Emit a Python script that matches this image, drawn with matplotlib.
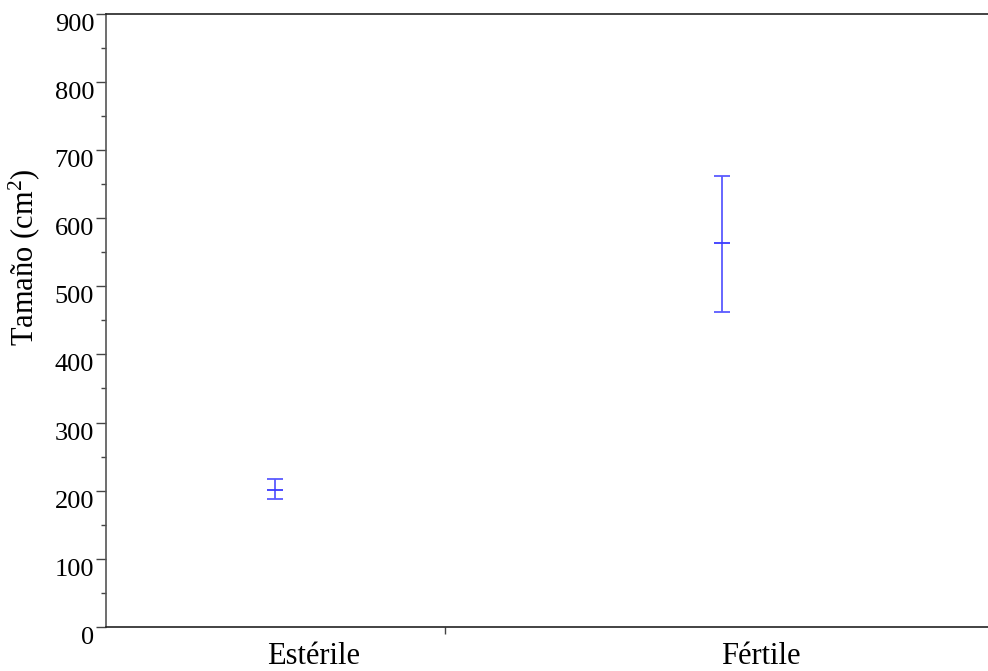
import matplotlib
matplotlib.use("Agg")
import matplotlib.pyplot as plt
from matplotlib.ticker import MultipleLocator, FixedLocator
from matplotlib.transforms import ScaledTranslation

categories = ["Estérile", "Fértile"]
means = [201.5, 563.5]
upper = [217.0, 662.0]
lower = [188.5, 462.0]

positions = [1, 2]
plt.rcParams['font.family'] = ['Liberation Serif', 'DejaVu Serif']
plt.rcParams['mathtext.fontset'] = 'custom'
plt.rcParams['mathtext.rm'] = 'Liberation Serif'
plt.rcParams['mathtext.it'] = 'Liberation Serif:italic'

fig = plt.figure(figsize=(9.88, 6.71), dpi=100)
ax = fig.add_axes([106/988, (671-627)/671, (988-106)/988, (627-13.7)/671])

yerr = [[m - l for m, l in zip(means, lower)], [u - m for m, u in zip(means, upper)]]
ax.errorbar(positions, means, yerr=yerr, fmt='_', color='#3a3aff', ecolor='#5a5aff',
            elinewidth=1.3, capsize=5.5, capthick=1.3, markersize=11, markeredgewidth=1.3)

ax.set_xlim(0.622, 2.595)
ax.set_ylim(0, 900)

ax.yaxis.set_major_locator(MultipleLocator(100))
ax.yaxis.set_minor_locator(MultipleLocator(50))
ax.tick_params(axis='y', which='major', direction='out', length=7.5, width=1, color='#444444',
               labelsize=19, pad=1)
ax.tick_params(axis='y', which='minor', direction='out', length=3.8, width=1, color='#444444')
for lbl in ax.get_yticklabels():
    lbl.set_verticalalignment('top')

ax.xaxis.set_major_locator(FixedLocator([1.38]))
ax.set_xticklabels([""])
ax.xaxis.set_minor_locator(FixedLocator(positions))
ax.set_xticklabels(categories, minor=True)
ax.tick_params(axis='x', which='major', direction='out', length=5, width=1, color='#444444')
ax.tick_params(axis='x', which='minor', length=0, labelsize=22, pad=11)
shift = ScaledTranslation(0.39, 0, fig.dpi_scale_trans)
for lbl in ax.get_xticklabels(minor=True):
    lbl.set_transform(lbl.get_transform() + shift)

ax.spines['right'].set_visible(False)
ax.spines['left'].set_color('#555555')
ax.spines['top'].set_color('#222222')
ax.spines['bottom'].set_color('#222222')
for s in ax.spines.values():
    s.set_linewidth(1.2)

ax.set_ylabel("Tamaño (cm$^{2}$)", fontsize=22, labelpad=8)
ax.yaxis.set_label_coords(-0.073, 0.602)

fig.savefig("out.png", dpi=100)
